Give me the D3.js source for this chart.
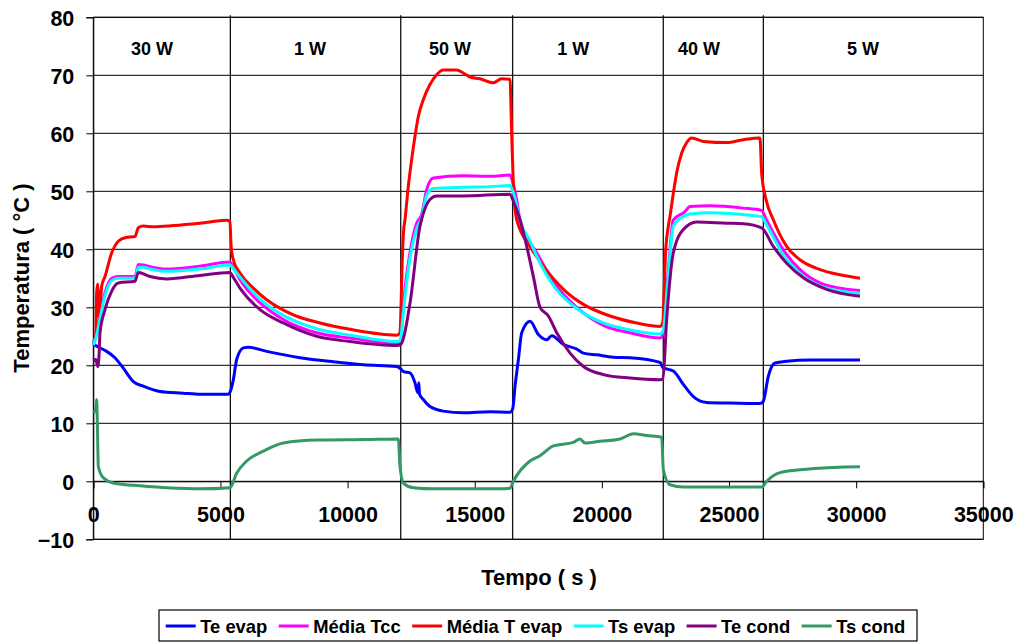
<!DOCTYPE html>
<html>
<head>
<meta charset="utf-8">
<script src="https://cdn.jsdelivr.net/npm/d3@7"></script>
<style>
  html, body { margin: 0; padding: 0; background: #fff; }
  svg { display: block; }
  text { font-family: "Liberation Sans", Arial, sans-serif; font-weight: bold; fill: #000; }
</style>
</head>
<body>
<svg id="chart" width="1021" height="643"></svg>
<script>
// ---- data: time (s), temperature (ºC) ----
const teEvap = [[0,23.6],[262,23.0],[524,22.4],[852,21.3],[1180,19.5],[1573,17.2],[1966,16.4],[2621,15.5],[3538,15.2],[4194,15.0],[5310,15.0],[5400,15.6],[5507,17.5],[5638,21.0],[5900,23.0],[6097,23.1],[6818,22.4],[8129,21.3],[9440,20.6],[10619,20.1],[11930,19.8],[12061,19.5],[12200,18.9],[12454,18.7],[12650,17.0],[12760,15.3],[12800,17.0],[12830,15.0],[12978,14.1],[13240,12.9],[13764,12.1],[14551,11.8],[15600,12.0],[16386,11.9],[16493,12.5],[16586,16.4],[16717,21.0],[16848,25.6],[17176,27.6],[17504,25.3],[17831,24.4],[18028,25.1],[18487,23.6],[19011,22.8],[19273,22.1],[19797,21.8],[20453,21.4],[21108,21.3],[22288,20.5],[22400,19.6],[22811,19.0],[23204,16.7],[23597,14.6],[24121,13.6],[24908,13.5],[26218,13.4],[26348,13.8],[26545,18.1],[26807,20.4],[27266,20.7],[28183,20.9],[30150,20.9]];

const mediaTcc = [[0,23.5],[120,25.5],[263,28.4],[460,32.5],[724,35.0],[983,35.3],[1640,35.3],[1770,37.4],[1966,37.3],[2228,37.0],[2884,36.6],[4194,37.1],[5376,37.8],[5500,37.0],[5769,34.8],[6556,30.8],[7473,27.9],[8784,25.6],[10096,24.7],[11930,23.8],[12090,24.2],[12147,27.9],[12454,39.4],[12716,44.5],[12913,46.0],[13110,50.3],[13372,52.3],[14551,52.7],[15600,52.6],[16386,52.8],[16500,51.5],[16651,48.5],[16782,45.0],[17438,39.4],[18225,33.6],[19011,30.0],[20059,26.9],[21108,25.6],[22288,24.7],[22415,25.5],[22548,33.0],[22680,40.0],[22800,45.0],[23270,46.5],[23466,47.4],[24252,47.5],[25563,47.1],[26284,46.7],[26480,45.0],[27135,39.9],[27791,36.5],[28577,34.2],[29364,33.3],[30150,32.9]];

const mediaTEvap = [[0,23.9],[100,25.0],[131,32.5],[173,34.0],[196,28.5],[230,32.8],[263,30.0],[327,33.6],[460,35.3],[724,39.4],[983,41.4],[1247,42.0],[1640,42.2],[1770,43.7],[1966,44.0],[2359,43.9],[3146,44.1],[4194,44.5],[5243,45.0],[5376,44.8],[5420,40.5],[5507,38.2],[5769,35.9],[6293,33.3],[6818,31.3],[7866,28.7],[8915,27.3],[10096,26.2],[11930,25.2],[12061,25.6],[12100,30.0],[12150,38.0],[12200,43.0],[12258,45.1],[12389,50.9],[12520,55.5],[12651,59.5],[12782,62.9],[12978,65.8],[13240,68.4],[13503,70.1],[13765,70.9],[14289,70.9],[14551,70.4],[14813,69.7],[15207,69.4],[15731,68.7],[16059,69.4],[16386,69.3],[16452,60.1],[16517,51.5],[16651,45.1],[17176,40.5],[17700,37.1],[18487,33.1],[19273,30.5],[20322,28.5],[21370,27.3],[22288,26.7],[22400,27.5],[22450,33.0],[22500,39.0],[22614,44.0],[22680,45.7],[22811,49.7],[22942,53.2],[23139,56.6],[23335,58.4],[23532,59.2],[23991,58.6],[24908,58.4],[25563,58.9],[26218,59.2],[26284,53.1],[26454,48.6],[26742,45.1],[27266,40.5],[27791,38.2],[28577,36.5],[29364,35.6],[30150,35.0]];

const tsEvap = [[0,23.5],[120,25.0],[263,28.0],[460,32.0],[724,34.6],[983,35.0],[1640,35.0],[1770,36.9],[1966,36.9],[2228,36.6],[2884,36.2],[4194,36.6],[5376,37.3],[5500,36.7],[5769,35.2],[6556,31.4],[7473,28.6],[8784,26.3],[10096,25.2],[11930,24.1],[12090,24.3],[12147,27.0],[12454,38.5],[12716,43.5],[12913,45.5],[13110,49.3],[13372,50.5],[14551,50.7],[15600,50.8],[16386,51.0],[16500,50.0],[16651,47.5],[16782,45.0],[17176,41.4],[17438,38.8],[18225,33.0],[19011,29.8],[20059,27.3],[21108,26.1],[22288,25.4],[22415,26.0],[22548,32.0],[22680,39.0],[22811,44.0],[23270,45.8],[23466,46.1],[24252,46.3],[25563,46.0],[26284,45.6],[26480,44.2],[27135,39.0],[27791,35.8],[28577,33.7],[29364,32.8],[30150,32.4]];

const teCond = [[0,20.8],[100,21.0],[173,19.8],[230,22.0],[263,25.6],[460,29.6],[724,32.8],[983,34.2],[1640,34.5],[1770,36.0],[2228,35.3],[2884,34.9],[4194,35.5],[5376,36.0],[5500,35.2],[5769,33.3],[6556,29.6],[7473,27.3],[8784,25.0],[10096,24.1],[11930,23.4],[12090,23.6],[12454,30.7],[12847,44.0],[12978,46.2],[13240,48.6],[13503,49.2],[14551,49.2],[16386,49.5],[16500,48.5],[16782,45.1],[17045,40.5],[17307,35.3],[17569,30.0],[17897,28.5],[18225,25.6],[18749,22.1],[19273,19.8],[20059,18.4],[21108,17.8],[22288,17.5],[22400,17.6],[22548,27.9],[22811,39.4],[23204,43.4],[23728,44.7],[24908,44.5],[25563,44.4],[26284,43.7],[26742,40.5],[27266,37.6],[27922,35.1],[28839,33.1],[30150,31.9]];

const tsCond = [[0,11.8],[100,12.5],[131,14.1],[160,10.0],[196,2.6],[393,0.6],[786,-0.3],[1573,-0.7],[2884,-1.1],[4194,-1.3],[5376,-1.1],[5638,1.4],[6031,3.5],[6687,5.2],[7473,6.6],[8784,7.1],[10750,7.2],[11996,7.3],[12061,2.6],[12192,-0.3],[12586,-1.1],[13372,-1.3],[15994,-1.3],[16386,-1.2],[16517,0.0],[17173,3.5],[17566,4.4],[18090,6.1],[18877,6.7],[19139,7.3],[19336,6.6],[19926,6.9],[20713,7.3],[21237,8.2],[21762,7.9],[22352,7.6],[22418,2.0],[22680,-0.6],[23204,-1.0],[25170,-1.0],[26284,-1.0],[26480,0.0],[27004,1.5],[27791,2.0],[29102,2.4],[30150,2.5]];

// series in drawing / legend order
const seriesNames = ["Te evap", "Média Tcc", "Média T evap", "Ts evap", "Te cond", "Ts cond"];
const seriesData = [teEvap, mediaTcc, mediaTEvap, tsEvap, teCond, tsCond];
const seriesColors = ["#0000ff", "#ff00ff", "#ff0000", "#00ffff", "#800080", "#339966"];

// heating power steps
const phaseBounds = [5390, 12090, 16490, 22415, 26350];
const phaseLabels = ["30 W", "1 W", "50 W", "1 W", "40 W", "5 W"];
const phaseLabelTimes = [2310, 8520, 14030, 18870, 23820, 30270];

const xTicks = [0, 5000, 10000, 15000, 20000, 25000, 30000, 35000];
const yTicks = [-10, 0, 10, 20, 30, 40, 50, 60, 70, 80];

// ---- layout ----
const svg = d3.select("#chart");
const plotLeft = 93.3, plotRight = 983.3, plotTop = 17.3, plotBottom = 539.3;

const x = d3.scaleLinear().domain([0, 35000]).range([plotLeft, plotRight]);
const y = d3.scaleLinear().domain([-10, 80]).range([plotBottom, plotTop]);

// horizontal gridlines
svg.append("g")
  .selectAll("line")
  .data(yTicks)
  .join("line")
  .attr("x1", plotLeft).attr("x2", plotRight)
  .attr("y1", d => y(d)).attr("y2", d => y(d))
  .attr("stroke", "#000").attr("stroke-width", 1);

// phase separators
svg.append("g")
  .selectAll("line")
  .data(phaseBounds)
  .join("line")
  .attr("x1", d => x(d)).attr("x2", d => x(d))
  .attr("y1", plotTop - 2).attr("y2", plotBottom)
  .attr("stroke", "#111").attr("stroke-width", 1.3);

// plot frame
svg.append("rect")
  .attr("x", plotLeft).attr("y", plotTop)
  .attr("width", plotRight - plotLeft).attr("height", plotBottom - plotTop)
  .attr("fill", "none").attr("stroke", "#000").attr("stroke-width", 1);

// y axis
const yAxis = svg.append("g")
  .attr("transform", `translate(${plotLeft},0)`)
  .call(d3.axisLeft(y).tickValues(yTicks).tickSize(7).tickPadding(12).tickFormat(d3.format("d")));
yAxis.select(".domain").attr("stroke", "#000");
yAxis.selectAll(".tick line").attr("stroke", "#000");
yAxis.selectAll("text").style("font-size", "21.5px").attr("dy", "0.36em");

// x axis crossing at 0 ºC
const xAxis = svg.append("g")
  .attr("transform", `translate(0,${y(0)})`)
  .call(d3.axisBottom(x).tickValues(xTicks).tickSize(7).tickPadding(18).tickFormat(d3.format("d")));
xAxis.select(".domain").attr("stroke", "#000");
xAxis.selectAll(".tick line").attr("stroke", "#000");
xAxis.selectAll("text").style("font-size", "21.5px");

// phase labels
svg.append("g")
  .selectAll("text")
  .data(phaseLabels)
  .join("text")
  .attr("x", (d, i) => x(phaseLabelTimes[i]))
  .attr("y", 49)
  .attr("text-anchor", "middle")
  .attr("dominant-baseline", "central")
  .style("font-size", "18px")
  .text(d => d);

// series lines
const line = d3.line()
  .x(d => x(d[0]))
  .y(d => y(d[1]))
  .curve(d3.curveMonotoneX);

svg.append("g")
  .selectAll("path")
  .data(seriesData)
  .join("path")
  .attr("d", line)
  .attr("fill", "none")
  .attr("stroke", (d, i) => seriesColors[i])
  .attr("stroke-width", 3)
  .attr("stroke-linejoin", "round");

// axis titles
svg.append("text")
  .attr("x", 539).attr("y", 585)
  .attr("text-anchor", "middle")
  .style("font-size", "22px")
  .text("Tempo ( s )");

svg.append("text")
  .attr("transform", "translate(21,278) rotate(-90)")
  .attr("text-anchor", "middle")
  .attr("dominant-baseline", "central")
  .style("font-size", "22px")
  .text("Temperatura ( °C )");

// legend
const legend = svg.append("g");
legend.append("rect")
  .attr("x", 159).attr("y", 610)
  .attr("width", 758).attr("height", 31)
  .attr("fill", "#fff").attr("stroke", "#000").attr("stroke-width", 1.2);

let lx = 165.7;
const ly = 626;
seriesNames.forEach((name, i) => {
  legend.append("line")
    .attr("x1", lx).attr("x2", lx + 30)
    .attr("y1", ly).attr("y2", ly)
    .attr("stroke", seriesColors[i]).attr("stroke-width", 3);
  const t = legend.append("text")
    .attr("x", lx + 34.5).attr("y", ly)
    .attr("dominant-baseline", "central")
    .style("font-size", "18.4px")
    .text(name);
  lx += 34.5 + t.node().getComputedTextLength() + 11.4;
});
</script>
</body>
</html>
